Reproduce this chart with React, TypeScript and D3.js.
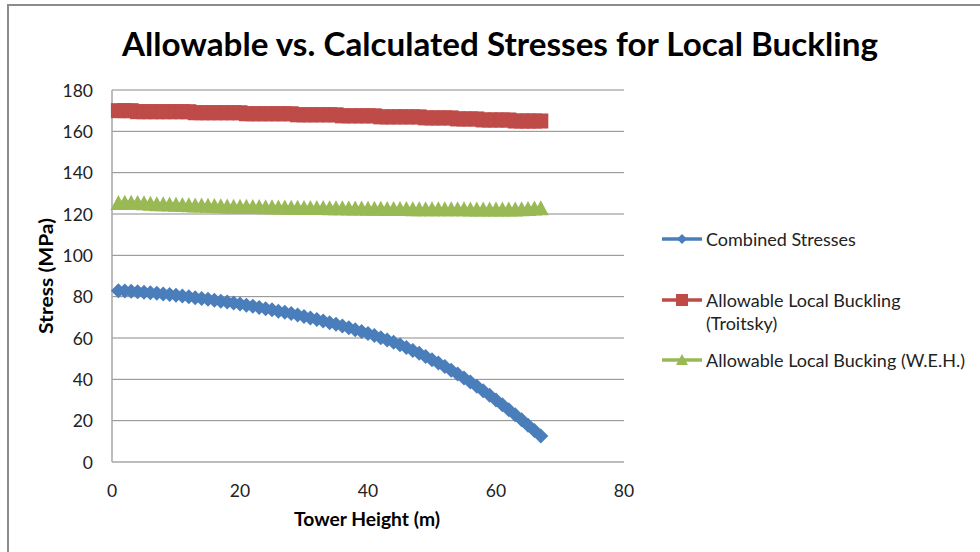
import * as React from 'react'
import * as d3 from 'd3'

// tower heights (m), one reading per metre
const heights = [
  1, 2, 3, 4, 5, 6, 7, 8, 9, 10, 11, 12, 13, 14, 15, 16, 17, 18, 19, 20,
  21, 22, 23, 24, 25, 26, 27, 28, 29, 30, 31, 32, 33, 34, 35, 36, 37, 38, 39, 40,
  41, 42, 43, 44, 45, 46, 47, 48, 49, 50, 51, 52, 53, 54, 55, 56, 57, 58, 59, 60,
  61, 62, 63, 64, 65, 66, 67,
]

const combined = [
  82.9, 82.7, 82.6, 82.4, 82.1, 81.9, 81.6, 81.3, 81.0, 80.7,
  80.3, 79.9, 79.5, 79.1, 78.7, 78.3, 77.8, 77.4, 76.9, 76.4,
  75.9, 75.4, 74.8, 74.2, 73.7, 73.0, 72.4, 71.8, 71.1, 70.4,
  69.7, 69.0, 68.2, 67.4, 66.6, 65.8, 64.9, 64.0, 63.1, 62.2,
  61.2, 60.1, 59.0, 57.9, 56.7, 55.4, 54.0, 52.6, 51.1, 49.5,
  47.9, 46.2, 44.4, 42.6, 40.7, 38.7, 36.6, 34.5, 32.3, 30.0,
  27.7, 25.3, 22.9, 20.4, 17.8, 15.2, 12.6,
]

const troitsky = [
  170, 170, 170, 169.5, 169.5, 169.5, 169.5, 169.5, 169.5, 169.5,
  169.5, 169.5, 169, 169, 169, 169, 169, 169, 169, 169,
  168.5, 168.5, 168.5, 168.5, 168.5, 168.5, 168.5, 168.5, 168, 168,
  168, 168, 168, 168, 168, 167.5, 167.5, 167.5, 167.5, 167.5,
  167.5, 167, 167, 167, 167, 167, 167, 167, 166.5, 166.5,
  166.5, 166.5, 166.5, 166, 166, 166, 166, 165.5, 165.5, 165.5,
  165.5, 165.5, 165, 165, 165, 165, 165,
]

const weh = [
  125.6, 125.7, 125.7, 125.6, 125.4, 125.2, 125.0, 124.9, 124.8, 124.7,
  124.6, 124.5, 124.4, 124.3, 124.2, 124.1, 124.0, 123.9, 123.8, 123.8,
  123.7, 123.6, 123.6, 123.5, 123.5, 123.4, 123.4, 123.3, 123.3, 123.2,
  123.2, 123.1, 123.1, 123.0, 123.0, 123.0, 122.9, 122.9, 122.9, 122.8,
  122.8, 122.8, 122.7, 122.7, 122.7, 122.7, 122.6, 122.6, 122.6, 122.6,
  122.5, 122.5, 122.5, 122.5, 122.5, 122.4, 122.4, 122.4, 122.4, 122.4,
  122.4, 122.4, 122.4, 122.5, 122.7, 122.9, 123.0,
]

const xTicks = [0, 20, 40, 60, 80]
const yTicks = [0, 20, 40, 60, 80, 100, 120, 140, 160, 180]

const seriesNames = ['Combined Stresses', 'Allowable Local Buckling', 'Allowable Local Bucking (W.E.H.)']
const seriesColors = ['#4a7ebb', '#be4b48', '#98b954']

const FONT = 'Lato, "Open Sans", sans-serif'

function marker(kind: string, x: number, y: number, color: string, key: number | string) {
  if (kind === 'diamond') {
    const r = 7.5
    return <path key={key} d={`M${x},${y - r}L${x + r},${y}L${x},${y + r}L${x - r},${y}Z`} fill={color} />
  }
  if (kind === 'square') {
    const h = 7.5
    return <rect key={key} x={x - h} y={y - h} width={2 * h} height={2 * h} fill={color} />
  }
  const w = 8, h = 7.5
  return <path key={key} d={`M${x},${y - h}L${x + w},${y + h}L${x - w},${y + h}Z`} fill={color} />
}

export default function App() {
  const W = 980
  const H = 552
  const x = d3.scaleLinear().domain([0, 80]).range([112, 624])
  const y = d3.scaleLinear().domain([0, 180]).range([462, 90])

  const series = [
    { name: seriesNames[0], values: combined, color: seriesColors[0], kind: 'diamond' },
    { name: seriesNames[1], values: troitsky, color: seriesColors[1], kind: 'square' },
    { name: seriesNames[2], values: weh, color: seriesColors[2], kind: 'triangle' },
  ]

  const line = d3.line<number>()
    .x((_, i) => x(heights[i]))
    .y(d => y(d))

  const legendY = [239, 300, 360]

  return <svg width={W} height={H} style={{ position: 'absolute', left: 0, top: 0 }} fontFamily={FONT}>
    <rect x={0} y={0} width={W} height={H} fill="#fff" />
    <path d={`M8,${H + 2}V5H${W + 2}`} fill="none" stroke="#8c8c8c" strokeWidth={2} />

    <text x={500} y={56} textAnchor="middle" fontSize={33} fontWeight="bold" fill="#000"
      textLength={756} lengthAdjust="spacingAndGlyphs">Allowable vs. Calculated Stresses for Local Buckling</text>

    {yTicks.filter(t => t > 0).map(t =>
      <line key={t} x1={x(0)} x2={x(80)} y1={y(t)} y2={y(t)} stroke="#8a8a8a" strokeWidth={1} />
    )}
    <line x1={x(0)} x2={x(80)} y1={y(0)} y2={y(0)} stroke="#a6a6a6" strokeWidth={1.5} />
    <line x1={x(0)} x2={x(0)} y1={y(0)} y2={y(180)} stroke="#a6a6a6" strokeWidth={1.5} />

    {yTicks.map(t =>
      <text key={t} x={93} y={y(t)} textAnchor="end" dominantBaseline="central" fontSize={17.5} fill="#222">{t}</text>
    )}
    {xTicks.map(t =>
      <text key={t} x={x(t)} y={490} textAnchor="middle" dominantBaseline="central" fontSize={17.5} fill="#222">{t}</text>
    )}

    <text x={367} y={519} textAnchor="middle" dominantBaseline="central" fontSize={18} fontWeight="bold" fill="#000"
      textLength={146} lengthAdjust="spacingAndGlyphs">Tower Height (m)</text>
    <text transform={`translate(46 ${276}) rotate(-90)`} textAnchor="middle" dominantBaseline="central" fontSize={18} fontWeight="bold" fill="#000"
      textLength={116} lengthAdjust="spacingAndGlyphs">Stress (MPa)</text>

    {series.map((s, si) =>
      <g key={si}>
        <path d={line(s.values) ?? ''} fill="none" stroke={s.color} strokeWidth={3.5} />
        {s.values.map((v, i) => marker(s.kind, x(heights[i]), y(v), s.color, i))}
      </g>
    )}

    {series.map((s, si) =>
      <g key={si}>
        <line x1={662} x2={702} y1={legendY[si]} y2={legendY[si]} stroke={s.color} strokeWidth={3.5} />
        {s.kind === 'diamond'
          ? <path d={`M682,${legendY[si] - 5}L687,${legendY[si]}L682,${legendY[si] + 5}L677,${legendY[si]}Z`} fill={s.color} />
          : s.kind === 'square'
            ? <rect x={676} y={legendY[si] - 6} width={12} height={12} fill={s.color} />
            : <path d={`M682,${legendY[si] - 6}L688,${legendY[si] + 5}L676,${legendY[si] + 5}Z`} fill={s.color} />}
        <text x={706} y={legendY[si]} dominantBaseline="central" fontSize={18} fill="#222">{s.name}</text>
      </g>
    )}
    <text x={706} y={323} dominantBaseline="central" fontSize={18} fill="#222">(Troitsky)</text>
  </svg>
}
